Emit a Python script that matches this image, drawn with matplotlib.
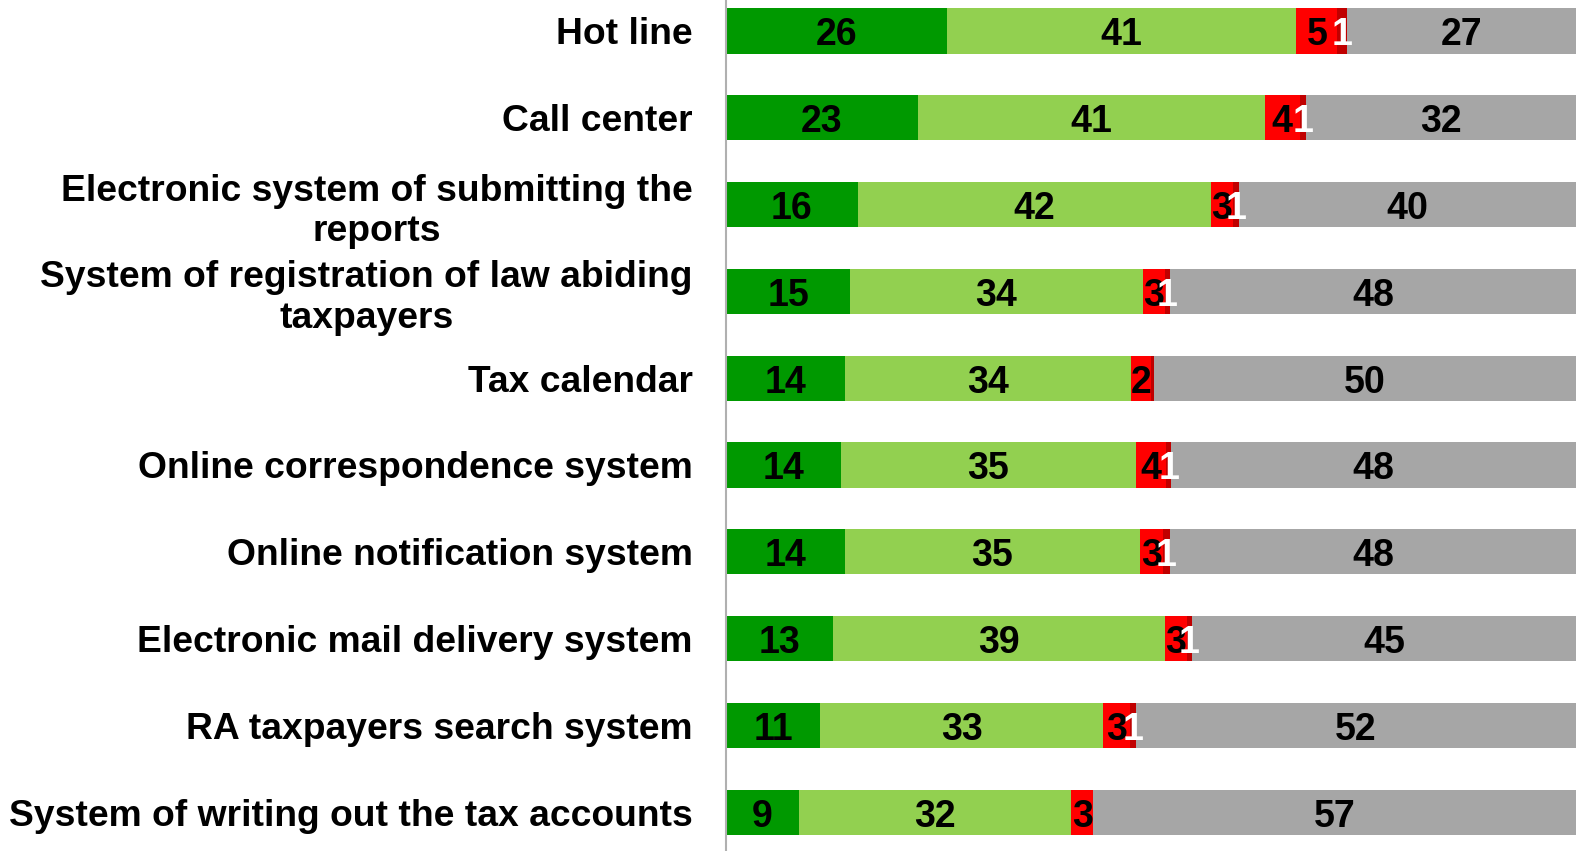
import numpy as np
import matplotlib
matplotlib.use("Agg")
import matplotlib.pyplot as plt

plt.rcParams['font.family'] = ['Liberation Sans', 'DejaVu Sans']

categories = [
    'Hot line',
    'Call center',
    'Electronic system of submitting the\nreports',
    'System of registration of law abiding\ntaxpayers',
    'Tax calendar',
    'Online correspondence system',
    'Online notification system',
    'Electronic mail delivery system',
    'RA taxpayers search system',
    'System of writing out the tax accounts',
]

# shares in %
very_good = [26.0, 22.6, 15.5, 14.6, 14.0, 13.5, 14.0, 12.6, 11.1, 8.6]
good      = [41.1, 40.8, 41.5, 34.4, 33.6, 34.7, 34.7, 39.0, 33.3, 32.0]
bad       = [4.8, 4.1, 2.7, 2.6, 2.4, 3.6, 2.7, 2.6, 3.1, 2.6]
very_bad  = [1.1, 0.7, 0.7, 0.6, 0.3, 0.6, 0.8, 0.6, 0.7, 0.0]
no_answer = [27.0, 31.8, 39.6, 47.8, 49.7, 47.6, 47.8, 45.2, 51.8, 56.8]

series = [very_good, good, bad, very_bad, no_answer]
colors = ['#009900', '#92D050', '#FF0000', '#C00000', '#A6A6A6']
text_colors = ['black', 'black', 'black', 'white', 'black']

fig = plt.figure(figsize=(15.76, 8.51), dpi=100)
ax = fig.add_axes([726 / 1576, 0, 1 - 726 / 1576, 1])

y = np.arange(len(categories))
left = np.zeros(len(categories))
for vals, c, tc in zip(series, colors, text_colors):
    vals = np.array(vals)
    ax.barh(y, vals, left=left, height=0.52, color=c, edgecolor='none')
    for yi, l, v in zip(y, left, vals):
        if round(v) >= 1:
            ax.text(l + v / 2, yi + 0.05, str(int(round(v))), ha='center', va='center',
                    color=tc, fontsize=27, fontweight='bold')
    left += vals

ax.set_xlim(0, 100)
ax.set_ylim((851 - 31) / 86.8, -31 / 86.8)
ax.set_yticks(y)
ax.set_yticklabels(categories, fontsize=26.8, fontweight='bold', multialignment='center',
                   linespacing=1.2)
ax.tick_params(axis='y', length=0, pad=24)
ax.set_xticks([])
for s in ['top', 'right', 'bottom']:
    ax.spines[s].set_visible(False)
ax.spines['left'].set_color('#B0B0B0')
ax.spines['left'].set_linewidth(1.5)

fig.savefig('out.png', dpi=100)
